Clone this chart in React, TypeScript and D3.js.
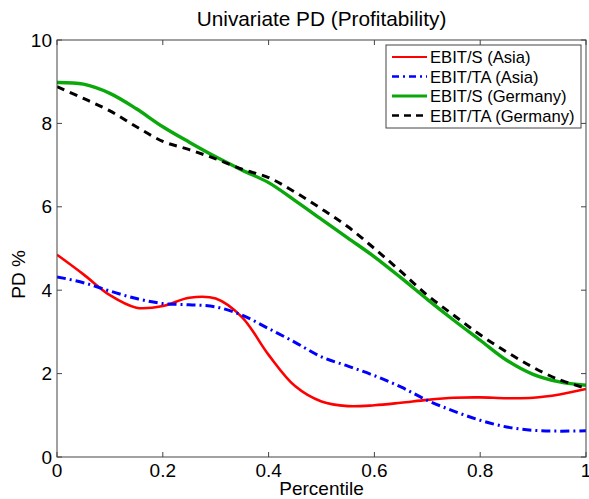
import React from "react";
import * as d3 from "d3";

const percentiles = [0, 0.05, 0.1, 0.15, 0.2, 0.25, 0.3, 0.35, 0.4, 0.45, 0.5, 0.55, 0.6, 0.65, 0.7, 0.75, 0.8, 0.85, 0.9, 0.95, 1];
const ebitSAsia = [4.85, 4.38, 3.88, 3.58, 3.62, 3.82, 3.8, 3.35, 2.45, 1.7, 1.33, 1.22, 1.24, 1.3, 1.37, 1.42, 1.43, 1.41, 1.42, 1.5, 1.63];
const ebitTAAsia = [4.32, 4.18, 3.98, 3.8, 3.68, 3.65, 3.6, 3.4, 3.08, 2.75, 2.4, 2.18, 1.95, 1.68, 1.36, 1.1, 0.88, 0.72, 0.64, 0.62, 0.63];
const ebitSGermany = [8.98, 8.94, 8.72, 8.35, 7.92, 7.55, 7.2, 6.88, 6.58, 6.15, 5.7, 5.25, 4.8, 4.3, 3.78, 3.28, 2.8, 2.32, 1.98, 1.8, 1.72];
const ebitTAGermany = [8.88, 8.6, 8.3, 7.92, 7.57, 7.37, 7.15, 6.9, 6.7, 6.35, 5.95, 5.52, 5.0, 4.45, 3.88, 3.4, 2.93, 2.52, 2.15, 1.85, 1.65];

const seriesNames = ["EBIT/S (Asia)", "EBIT/TA (Asia)", "EBIT/S (Germany)", "EBIT/TA (Germany)"];
const xTicks = [0, 0.2, 0.4, 0.6, 0.8, 1];
const xTickLabels = ["0", "0.2", "0.4", "0.6", "0.8", "1"];
const yTicks = [0, 2, 4, 6, 8, 10];
const yTickLabels = ["0", "2", "4", "6", "8", "10"];

const styles = [
  { color: "#ff0000", width: 2.6, dash: "none", legendDash: "none" },
  { color: "#0000ff", width: 3, dash: "9 4 2 4", legendDash: "7 4 2 4" },
  { color: "#0aa80a", width: 3.4, dash: "none", legendDash: "none" },
  { color: "#000000", width: 3, dash: "8 6", legendDash: "7 5" },
];

const FONT = "'Liberation Sans', Arial, Helvetica, sans-serif";

export default function App() {
  const W = 589, H = 499;
  const left = 57, right = 586, top = 40, bottom = 457;
  const x = d3.scaleLinear().domain([0, 1]).range([left, right]);
  const y = d3.scaleLinear().domain([0, 10]).range([bottom, top]);
  const line = d3
    .line<[number, number]>()
    .x((d) => x(d[0]))
    .y((d) => y(d[1]))
    .curve(d3.curveCatmullRom.alpha(0.5));
  const allSeries = [ebitSAsia, ebitTAAsia, ebitSGermany, ebitTAGermany];
  const axisColor = "#444";
  const tickLen = 5;

  const legX = 386, legY = 45, legW = 195, legH = 83;
  const rowY = [57, 76.5, 96, 115.5];

  return (
    <svg width={W} height={H} style={{ position: "absolute", left: 0, top: 0, background: "#fff" }} fontFamily={FONT}>
      <rect x={0} y={0} width={W} height={H} fill="#fff" />
      <text x={(left + right) / 2} y={26} textAnchor="middle" fontSize={20.8} fill="#000">
        Univariate PD (Profitability)
      </text>
      <defs>
        <clipPath id="plotclip">
          <rect x={left} y={top} width={right - left} height={bottom - top} />
        </clipPath>
      </defs>
      <g clipPath="url(#plotclip)">
        {allSeries.map((s, i) => (
          <path
            key={i}
            d={line(percentiles.map((p, j) => [p, s[j]] as [number, number])) || ""}
            fill="none"
            stroke={styles[i].color}
            strokeWidth={styles[i].width}
            strokeDasharray={styles[i].dash}
          />
        ))}
      </g>
      <rect x={left} y={top} width={right - left} height={bottom - top} fill="none" stroke={axisColor} strokeWidth={1} />
      {xTicks.map((t, i) => (
        <g key={"x" + i}>
          <line x1={x(t)} x2={x(t)} y1={bottom} y2={bottom - tickLen} stroke={axisColor} />
          <line x1={x(t)} x2={x(t)} y1={top} y2={top + tickLen} stroke={axisColor} />
          <text x={x(t)} y={477} textAnchor="middle" fontSize={19} fill="#000">
            {xTickLabels[i]}
          </text>
        </g>
      ))}
      {yTicks.map((t, i) => (
        <g key={"y" + i}>
          <line x1={left} x2={left + tickLen} y1={y(t)} y2={y(t)} stroke={axisColor} />
          <line x1={right} x2={right - tickLen} y1={y(t)} y2={y(t)} stroke={axisColor} />
          <text x={52} y={y(t) + 6.5} textAnchor="end" fontSize={19} fill="#000">
            {yTickLabels[i]}
          </text>
        </g>
      ))}
      <text x={(left + right) / 2} y={495} textAnchor="middle" fontSize={19} fill="#000">
        Percentile
      </text>
      <text transform={`translate(25, ${(top + bottom) / 2 + 26}) rotate(-90)`} textAnchor="middle" fontSize={19} fill="#000">
        PD %
      </text>
      <rect x={legX} y={legY} width={legW} height={legH} fill="#fff" stroke={axisColor} strokeWidth={1} />
      {seriesNames.map((name, i) => (
        <g key={"l" + i}>
          <line
            x1={392}
            x2={427}
            y1={rowY[i]}
            y2={rowY[i]}
            stroke={styles[i].color}
            strokeWidth={i === 0 ? 2 : styles[i].width - 0.6}
            strokeDasharray={styles[i].legendDash}
          />
          <text x={430} y={rowY[i] + 6} fontSize={16.6} fill="#000">
            {name}
          </text>
        </g>
      ))}
    </svg>
  );
}
